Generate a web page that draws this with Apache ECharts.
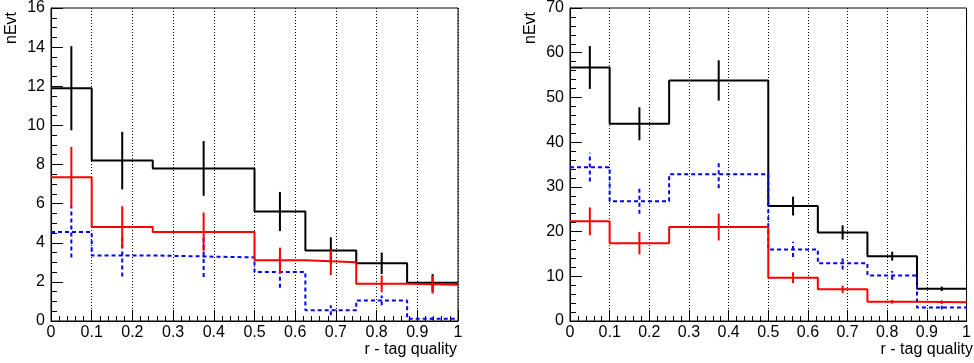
<!DOCTYPE html>
<html><head><meta charset="utf-8">
<script src="https://cdn.jsdelivr.net/npm/echarts@6/dist/echarts.min.js"></script>
<style>html,body{margin:0;padding:0;background:#fff}#c{width:974px;height:363px}</style>
</head><body><div id="c"></div>
<script>
// bin edges (r - tag quality)
var edges = [0, 0.1, 0.25, 0.5, 0.625, 0.75, 0.875, 1.0];
// left panel
var blackL = [11.9, 8.2, 7.8, 5.6, 3.6, 2.95, 1.95];
var blackLErr = [2.15, 1.47, 1.4, 1.0, 0.68, 0.55, 0.45];
var redL = [7.35, 4.8, 4.55, 3.1, 3.0, 1.9, 1.85];
var redLErr = [1.55, 1.07, 1.0, 0.65, 0.65, 0.43, 0.45];
var blueL = [4.55, 3.35, 3.25, 2.5, 0.55, 1.05, 0.12];
var blueLErr = [1.3, 1.07, 1.0, 0.8, 0.25, 0.25, 0.07];
// right panel
var blackR = [56.7, 44.1, 53.8, 25.7, 19.8, 14.5, 7.2];
var blackRErr = [4.8, 3.7, 4.5, 2.1, 1.6, 1.0, 0.5];
var blueR = [34.4, 26.8, 32.8, 16.0, 12.9, 10.2, 3.0];
var blueRErr = [3.2, 2.8, 3.1, 1.7, 1.4, 1.0, 0.4];
var redR = [22.3, 17.4, 21.0, 9.7, 7.1, 4.3, 4.2];
var redRErr = [3.1, 2.5, 3.0, 1.2, 0.8, 0.4, 0.4];
// axes
var yMaxL = 16, yStepL = 2, yMaxR = 70, yStepR = 10;
var xTitle = 'r - tag quality', yTitle = 'nEvt';

var FONT = 'Liberation Sans, Arial, sans-serif';
function stepPts(vals){
  var p = [];
  for (var i=0;i<vals.length;i++) p.push([edges[i], vals[i]]);
  p.push([edges[edges.length-1], vals[vals.length-1]]);
  return p;
}
function errPts(vals, errs){
  var p = [];
  for (var i=0;i<vals.length;i++) p.push([(edges[i]+edges[i+1])/2, vals[i], errs[i]]);
  return p;
}
function histSeries(idx, vals, color, dash){
  return {type:'line', xAxisIndex:idx, yAxisIndex:idx, step:'end', data:stepPts(vals),
    showSymbol:false, symbol:'none', silent:true,
    lineStyle:{color:color, width:2, type:dash?[4,3]:'solid'}, z:3};
}
function errSeries(idx, vals, errs, color, dash){
  return {type:'custom', xAxisIndex:idx, yAxisIndex:idx, data:errPts(vals, errs), silent:true, z:4,
    renderItem:function(params, api){
      var x = api.value(0), v = api.value(1), e = api.value(2);
      var a = api.coord([x, v-e]), b = api.coord([x, v+e]);
      return {type:'line', shape:{x1:a[0], y1:a[1], x2:b[0], y2:b[1]},
        style:{stroke:color, lineWidth:2, lineDash:dash?[4,3]:null}};
    }};
}
function xAx(idx){
  return {type:'value', gridIndex:idx, min:0, max:1, interval:0.1,
    axisLine:{show:true, onZero:false, lineStyle:{color:'#000', width:1}},
    axisTick:{show:true, inside:true, length:11, lineStyle:{color:'#000', width:1}},
    minorTick:{show:true, splitNumber:5, length:5, lineStyle:{color:'#000', width:1}},
    splitLine:{show:true, lineStyle:{color:'#000', width:1, type:[1,2]}},
    axisLabel:{color:'#000', fontFamily:FONT, fontSize:16, margin:4, showMinLabel:true, showMaxLabel:true,
      formatter:function(v){ return (v===0||v===1)? String(v) : v.toFixed(1); }}};
}
function yAx(idx, max, step, minorN){
  return {type:'value', gridIndex:idx, min:0, max:max, interval:step,
    axisLine:{show:true, onZero:false, lineStyle:{color:'#000', width:1}},
    axisTick:{show:true, inside:true, length:12, lineStyle:{color:'#000', width:1}},
    minorTick:{show:true, splitNumber:minorN, length:6, lineStyle:{color:'#000', width:1}},
    splitLine:{show:false},
    axisLabel:{color:'#000', fontFamily:FONT, fontSize:16, margin:6, showMinLabel:true, showMaxLabel:true}};
}
function title(x, y, txt, rot){
  var o = {type:'text', x:x, y:y, silent:true,
    style:{text:txt, fill:'#000', font:'16px '+FONT, align:'right', verticalAlign: rot?'bottom':'top'}};
  if (rot) o.rotation = Math.PI/2;
  return o;
}
var chart = echarts.init(document.getElementById('c'), null, {renderer:'canvas'});
chart.setOption({
  animation:false,
  backgroundColor:'#fff',
  grid:[
    {left:51, top:7, width:407, height:314, show:true, borderColor:'#000', borderWidth:1, backgroundColor:'transparent'},
    {left:570, top:7, width:405, height:314, show:true, borderColor:'#000', borderWidth:1, backgroundColor:'transparent'}
  ],
  xAxis:[xAx(0), xAx(1)],
  yAxis:[yAx(0, yMaxL, yStepL, 4), yAx(1, yMaxR, yStepR, 5)],
  series:[
    histSeries(0, blackL, '#000', false), errSeries(0, blackL, blackLErr, '#000', false),
    histSeries(0, blueL, '#0000ff', true), errSeries(0, blueL, blueLErr, '#0000ff', true),
    histSeries(0, redL, '#ff0000', false), errSeries(0, redL, redLErr, '#ff0000', false),
    histSeries(1, blackR, '#000', false), errSeries(1, blackR, blackRErr, '#000', false),
    histSeries(1, blueR, '#0000ff', true), errSeries(1, blueR, blueRErr, '#0000ff', true),
    histSeries(1, redR, '#ff0000', false), errSeries(1, redR, redRErr, '#ff0000', false)
  ],
  graphic:[
    title(20, 12, yTitle, true), title(539, 12, yTitle, true),
    title(457, 342, xTitle, false), title(973, 342, xTitle, false)
  ]
});
</script></body></html>
